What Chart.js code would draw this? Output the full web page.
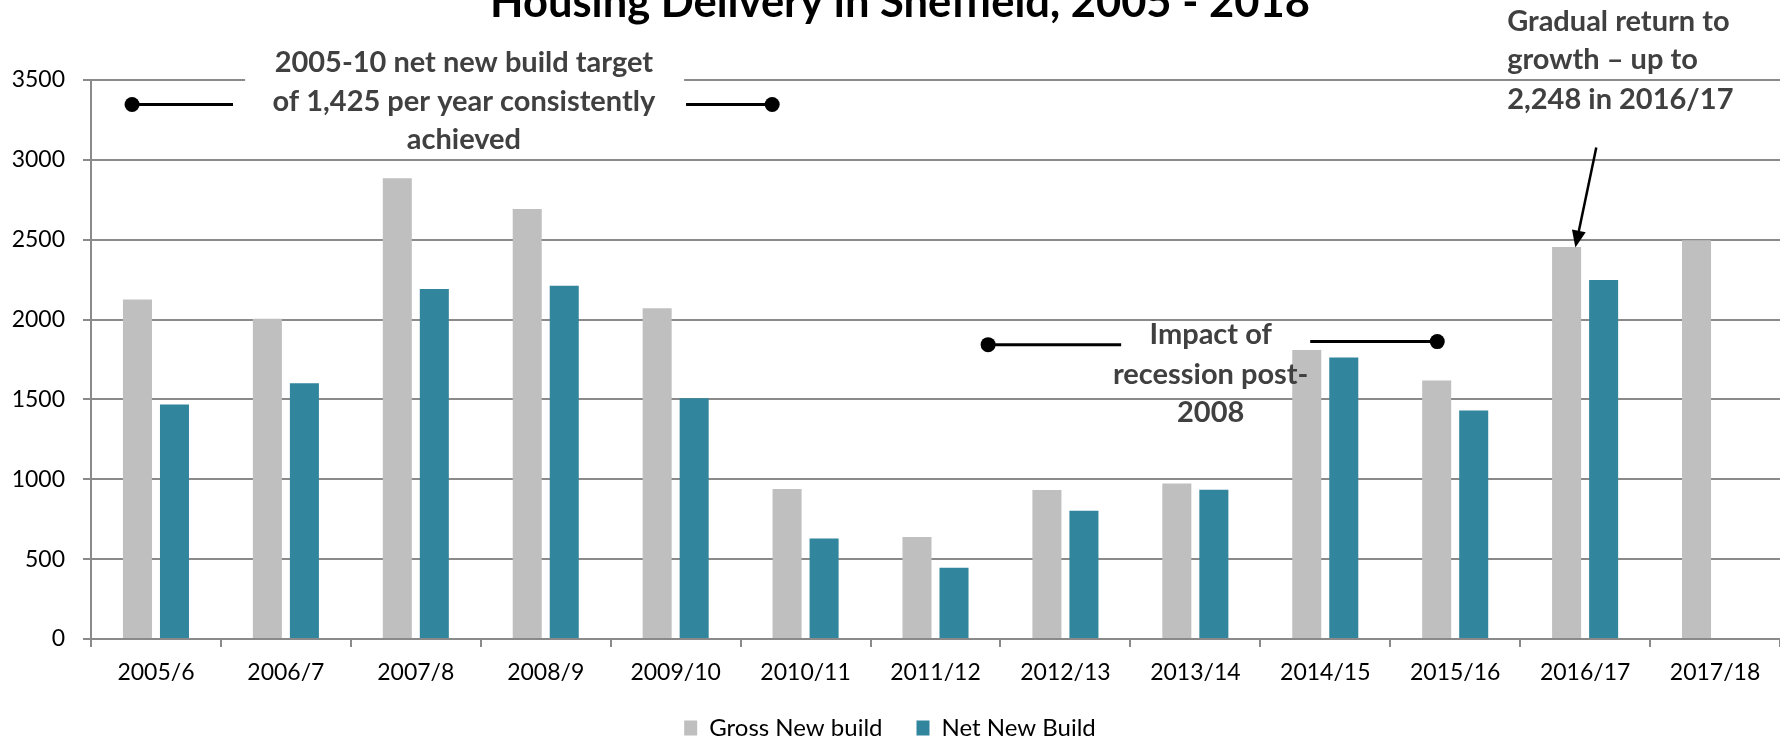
<!DOCTYPE html>
<html>
<head>
<meta charset="utf-8">
<title>Housing Delivery in Sheffield, 2005 - 2018</title>
<script src="https://cdn.jsdelivr.net/npm/chart.js@4.4.1/dist/chart.umd.min.js"></script>
<style>
  html, body { margin: 0; padding: 0; background: #fff; overflow: hidden; }
  #wrap { width: 1780px; height: 742px; }
</style>
</head>
<body>
<div id="wrap"><canvas id="chartBase" width="1780" height="742"></canvas></div>
<script>
// datos
const categorias = ["2005/6", "2006/7", "2007/8", "2008/9", "2009/10", "2010/11", "2011/12",
  "2012/13", "2013/14", "2014/15", "2015/16", "2016/17", "2017/18"];
const grossNewBuild = [2125, 2005, 2885, 2692, 2071, 939, 638, 933, 973, 1810, 1619, 2454, 2496];
const netNewBuild = [1469, 1602, 2192, 2211, 1508, 630, 446, 803, 935, 1762, 1431, 2248, null];
const yTicks = [0, 500, 1000, 1500, 2000, 2500, 3000, 3500];

const tituloTexto = "Housing Delivery in Sheffield, 2005 - 2018";
const notaObjetivo = ["2005-10 net new build target", "of 1,425 per year consistently", "achieved"];
const notaRecesion = ["Impact of", "recession post-", "2008"];
const notaCrecimiento = ["Gradual return to", "growth \u2013 up to", "2,248 in 2016/17"];

const GRIS = "#8a8a8a";
const TEXTO_NOTA = "#404040";
const FUENTE = "Lato, 'Open Sans', sans-serif";

let chartBase = null;

document.addEventListener("DOMContentLoaded", function () {
  pintarChart();
});

function punto(ctx, x, y) {
  ctx.beginPath();
  ctx.arc(x, y, 7.5, 0, Math.PI * 2);
  ctx.fill();
}

function linea(ctx, x1, y1, x2, y2) {
  ctx.beginPath();
  ctx.moveTo(x1, y1);
  ctx.lineTo(x2, y2);
  ctx.stroke();
}

function flecha(ctx, x1, y1, x2, y2) {
  const ang = Math.atan2(y2 - y1, x2 - x1);
  const largo = 17, ancho = 7;
  const bx = x2 - Math.cos(ang) * largo, by = y2 - Math.sin(ang) * largo;
  linea(ctx, x1, y1, bx, by);
  ctx.beginPath();
  ctx.moveTo(x2, y2);
  ctx.lineTo(bx + Math.sin(ang) * ancho, by - Math.cos(ang) * ancho);
  ctx.lineTo(bx - Math.sin(ang) * ancho, by + Math.cos(ang) * ancho);
  ctx.closePath();
  ctx.fill();
}

// titulo y notas dibujados encima del grafico
const notasPlugin = {
  id: "notas",
  afterDraw: function (chart) {
    const ctx = chart.ctx;
    const xs = chart.scales.x;
    const ys = chart.scales.y;
    const cw = (xs.right - xs.left) / categorias.length;
    const px = function (c) { return xs.left + c * cw; };
    const py = function (v) { return ys.getPixelForValue(v); };

    ctx.save();

    // titulo (cortado arriba como en el original)
    ctx.fillStyle = "#000";
    ctx.font = "bold 43.5px " + FUENTE;
    ctx.textAlign = "center";
    ctx.textBaseline = "alphabetic";
    ctx.fillText(tituloTexto, 900, 17);

    ctx.fillStyle = "#000";
    ctx.strokeStyle = "#000";
    ctx.lineWidth = 3;

    // nota 1: objetivo 2005-10 (caja blanca tapa la linea de 3500)
    ctx.fillStyle = "#fff";
    ctx.fillRect(px(1.186), py(3740), px(4.565) - px(1.186), py(3034) - py(3740));
    ctx.fillStyle = "#000";
    punto(ctx, px(0.316), py(3347));
    linea(ctx, px(0.316), py(3347), px(1.093), py(3347));
    linea(ctx, px(4.58), py(3347), px(5.243), py(3347));
    punto(ctx, px(5.243), py(3347));

    // nota 2: recesion
    punto(ctx, px(6.905), py(1843));
    linea(ctx, px(6.905), py(1843), px(7.929), py(1843));
    linea(ctx, px(9.384), py(1862), px(10.362), py(1862));
    punto(ctx, px(10.362), py(1862));

    // nota 3: flecha al 2016/17
    ctx.lineWidth = 2.5;
    flecha(ctx, px(11.586), py(3078), px(11.425), py(2451));

    ctx.fillStyle = TEXTO_NOTA;
    ctx.font = "bold 29px " + FUENTE;
    ctx.textBaseline = "middle";

    ctx.textAlign = "center";
    const y1 = [3610, 3366, 3128];
    for (let i = 0; i < notaObjetivo.length; i++) {
      ctx.fillText(notaObjetivo[i], px(2.87), py(y1[i]));
    }

    const y2 = [1905, 1654, 1416];
    for (let i = 0; i < notaRecesion.length; i++) {
      ctx.fillText(notaRecesion[i], px(8.618), py(y2[i]));
    }

    ctx.textAlign = "left";
    const y3 = [3867, 3629, 3378];
    for (let i = 0; i < notaCrecimiento.length; i++) {
      ctx.fillText(notaCrecimiento[i], px(10.9), py(y3[i]));
    }

    ctx.restore();
  }
};

function pintarChart() {
  const canvas = document.getElementById("chartBase");
  if (!canvas) return;
  const ctx = canvas.getContext("2d");
  if (chartBase) chartBase.destroy();

  Chart.defaults.font.family = FUENTE;
  Chart.defaults.color = "#000";

  chartBase = new Chart(ctx, {
    type: "bar",
    data: {
      labels: categorias,
      datasets: [
        { label: "Gross New build", data: grossNewBuild, backgroundColor: "#bfbfbf" },
        { label: "Net New Build", data: netNewBuild, backgroundColor: "#31859c" }
      ]
    },
    options: {
      responsive: false,
      animation: false,
      devicePixelRatio: 1,
      categoryPercentage: 0.57,
      barPercentage: 0.784,
      layout: { padding: { top: 80, right: 0, bottom: -8, left: 0 } },
      plugins: {
        title: { display: false },
        tooltip: { enabled: false },
        legend: {
          display: true,
          position: "bottom",
          labels: {
            boxWidth: 13,
            boxHeight: 15,
            padding: 34,
            font: { size: 24 },
            color: "#000"
          }
        }
      },
      scales: {
        x: {
          grid: { drawOnChartArea: false, drawTicks: true, tickLength: 8, color: GRIS, lineWidth: 2 },
          border: { display: true, color: GRIS, width: 2 },
          ticks: { autoSkip: false, maxRotation: 0, padding: 14, font: { size: 23, lineHeight: 1 }, color: "#000" },
          afterFit: function (s) { s.height = 43; }
        },
        y: {
          min: 0,
          max: 3500,
          afterBuildTicks: function (s) {
            s.ticks = yTicks.map(function (v) { return { value: v }; });
          },
          grid: { color: GRIS, lineWidth: 2, drawTicks: true, tickLength: 8 },
          border: { display: true, color: GRIS, width: 2 },
          ticks: {
            padding: 18,
            font: { size: 23 },
            color: "#000",
            callback: function (v) { return String(v); }
          },
          afterFit: function (s) { s.width = 91; }
        }
      }
    },
    plugins: [notasPlugin]
  });
}
</script>
</body>
</html>
